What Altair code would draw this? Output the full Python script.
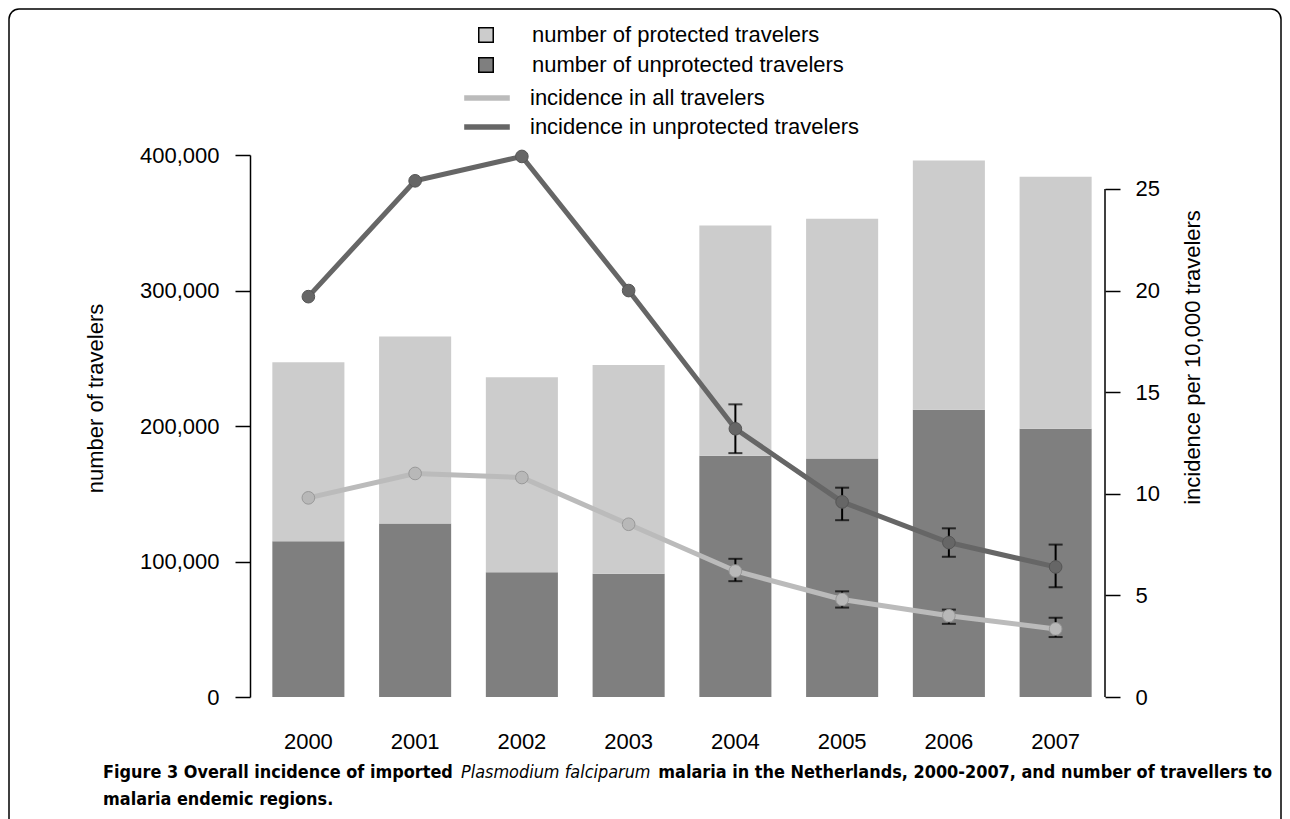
import altair as alt
import pandas as pd

years = ["2000", "2001", "2002", "2003", "2004", "2005", "2006", "2007"]
unprotected_travelers = [115000, 128000, 92000, 91000, 178000, 176000, 212000, 198000]
protected_travelers = [132000, 138000, 144000, 154000, 170000, 177000, 184000, 186000]

inc_all = [9.8, 11.0, 10.8, 8.5, 6.2, 4.8, 4.0, 3.35]
inc_unprot = [19.7, 25.4, 26.6, 20.0, 13.2, 9.6, 7.6, 6.4]

err_years = ["2004", "2005", "2006", "2007"]
all_lo = [5.7, 4.4, 3.6, 2.95]
all_hi = [6.8, 5.2, 4.3, 3.9]
unprot_lo = [12.0, 8.7, 6.9, 5.4]
unprot_hi = [14.4, 10.3, 8.3, 7.5]

bar_labels = ["number of protected travelers", "number of unprotected travelers"]
line_labels = ["incidence in all travelers", "incidence in unprotected travelers"]

bars_df = pd.DataFrame(
    [{"year": y, "group": bar_labels[1], "value": u, "order": 0} for y, u in zip(years, unprotected_travelers)]
    + [{"year": y, "group": bar_labels[0], "value": p, "order": 1} for y, p in zip(years, protected_travelers)]
)
inc_df = pd.DataFrame(
    [{"year": y, "series": line_labels[0], "value": v} for y, v in zip(years, inc_all)]
    + [{"year": y, "series": line_labels[1], "value": v} for y, v in zip(years, inc_unprot)]
)
err_df = pd.DataFrame(
    [{"year": y, "series": line_labels[0], "lo": lo, "hi": hi} for y, lo, hi in zip(err_years, all_lo, all_hi)]
    + [{"year": y, "series": line_labels[1], "lo": lo, "hi": hi} for y, lo, hi in zip(err_years, unprot_lo, unprot_hi)]
)
one = pd.DataFrame({"a": [0]})

FONT = "Liberation Sans"
W, H = 855, 542

x_enc = alt.X(
    "year:N",
    scale=alt.Scale(range=[5, 859], paddingInner=0.325, paddingOuter=0.1625),
    axis=alt.Axis(title=None, labelFontSize=22, labelFont=FONT, labelColor="black",
                  domain=False, ticks=False, labelPadding=34, labelAngle=0),
)

bars = alt.Chart(bars_df).mark_bar().encode(
    x=x_enc,
    y=alt.Y("value:Q", stack="zero",
            scale=alt.Scale(domain=[0, 400000], nice=False),
            axis=alt.Axis(title="number of travelers", values=[0, 100000, 200000, 300000, 400000],
                          format=",d", labelFontSize=22, labelFont=FONT, labelColor="black",
                          tickSize=15, tickColor="black", tickWidth=1.5,
                          domainColor="black", domainWidth=1.5, labelPadding=16, grid=False,
                          titleFontSize=22, titleFont=FONT, titleFontWeight="normal",
                          titleColor="black", titleAngle=270, titleX=-155, titleY=243,
                          titleAlign="center", titleBaseline="middle")),
    fill=alt.Fill("group:N", scale=alt.Scale(domain=bar_labels, range=["#cccccc", "#7f7f7f"]),
                  legend=alt.Legend(title=None, orient="none", legendX=225, legendY=-131,
                                    symbolType="square", symbolSize=210, symbolStrokeColor="black",
                                    symbolStrokeWidth=1.5, labelFontSize=22, labelFont=FONT,
                                    labelColor="black", labelOffset=35, rowPadding=8, padding=0,
                                    labelLimit=600)),
    order=alt.Order("order:Q"),
)

y_right = alt.Y("value:Q", scale=alt.Scale(domain=[0, 26.67], nice=False),
                axis=alt.Axis(title="incidence per 10,000 travelers", orient="right",
                              values=[0, 5, 10, 15, 20, 25], labelFontSize=22, labelFont=FONT,
                              labelColor="black", tickSize=15, tickColor="black", tickWidth=1.5,
                              domain=False, labelPadding=15, grid=False,
                              titleFontSize=22, titleFont=FONT, titleFontWeight="normal",
                              titleColor="black", titleAngle=270, titleX=87, titleY=202,
                              titleAlign="center", titleBaseline="middle"))

lines = alt.Chart(inc_df).mark_line(strokeWidth=5, strokeCap="round").encode(
    x=x_enc,
    y=y_right,
    stroke=alt.Stroke("series:N", scale=alt.Scale(domain=line_labels, range=["#bbbbbb", "#666666"]),
                      legend=alt.Legend(title=None, orient="none", legendX=222, legendY=-72,
                                        symbolType="M-1.9,0H1.9", symbolSize=576, symbolStrokeWidth=5.5,
                                        labelFontSize=22, labelFont=FONT, labelColor="black",
                                        labelOffset=28, rowPadding=3, padding=0, labelLimit=600)),
    detail="series:N",
)

err_rule = alt.Chart(err_df).mark_rule(color="black", strokeWidth=2).encode(
    x=x_enc, y=alt.Y("lo:Q"), y2="hi:Q")
err_lo = alt.Chart(err_df).mark_tick(color="black", thickness=2, size=14).encode(x=x_enc, y="lo:Q")
err_hi = alt.Chart(err_df).mark_tick(color="black", thickness=2, size=14).encode(x=x_enc, y="hi:Q")

pts_all = alt.Chart(inc_df).transform_filter(alt.datum.series == line_labels[0]).mark_circle(
    size=160, opacity=1, fill="#b8b8b8", stroke="#999999", strokeWidth=1).encode(x=x_enc, y="value:Q")
pts_unp = alt.Chart(inc_df).transform_filter(alt.datum.series == line_labels[1]).mark_circle(
    size=160, opacity=1, fill="#666666", stroke="#555555", strokeWidth=1).encode(x=x_enc, y="value:Q")

right_axis_line = alt.Chart(one).mark_rule(color="black", strokeWidth=1.5).encode(
    x=alt.value(W), y=alt.datum(0), y2=alt.datum(25))

inc_layer = alt.layer(lines, err_rule, err_lo, err_hi, pts_all, pts_unp, right_axis_line)

cap_font = "DejaVu Sans Condensed, DejaVu Sans, Liberation Sans"
CAP = 17.9
cap1 = alt.Chart(one).mark_text(align="left", baseline="middle", fontSize=CAP, font=cap_font,
                                fontWeight="bold", color="black").encode(
    x=alt.value(-147), y=alt.value(618), text=alt.value("Figure 3 Overall incidence of imported"))
cap2 = alt.Chart(one).mark_text(align="left", baseline="middle", fontSize=CAP, font=cap_font,
                                fontStyle="italic", color="black").encode(
    x=alt.value(211), y=alt.value(618), text=alt.value("Plasmodium falciparum"))
cap3 = alt.Chart(one).mark_text(align="right", baseline="middle", fontSize=CAP, font=cap_font,
                                fontWeight="bold", color="black").encode(
    x=alt.value(1022), y=alt.value(618),
    text=alt.value("malaria in the Netherlands, 2000-2007, and number of travellers to"))
cap4 = alt.Chart(one).mark_text(align="left", baseline="middle", fontSize=CAP, font=cap_font,
                                fontWeight="bold", color="black").encode(
    x=alt.value(-147), y=alt.value(645), text=alt.value("malaria endemic regions."))

frame = alt.Chart(one).mark_rect(filled=False, stroke="black", strokeWidth=1.5, cornerRadius=10).encode(
    x=alt.value(-241), x2=alt.value(1031), y=alt.value(-146), y2=alt.value(720))

chart = alt.layer(frame, bars, inc_layer, cap1, cap2, cap3, cap4).resolve_scale(
    y="independent"
).properties(
    width=W, height=H,
    padding={"left": 242, "top": 147, "right": 177, "bottom": 122},
    autosize=alt.AutoSizeParams(type="none"),
    background="white",
).configure_view(stroke=None)

chart.save("out.html", embed_options={"renderer": "svg", "actions": False})
